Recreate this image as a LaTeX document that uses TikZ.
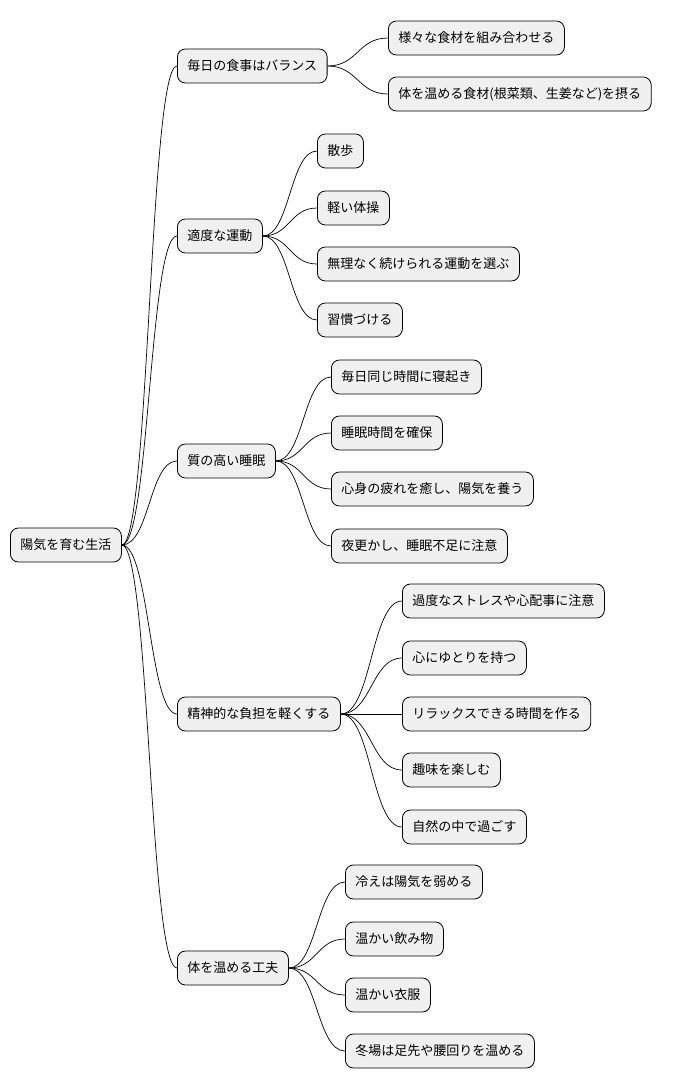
\documentclass[tikz,border=0pt]{standalone}
\usepackage{fontspec}
\setmainfont{Noto Sans CJK JP}
\usetikzlibrary{calc}
\tikzset{
 box/.style={draw=black, fill=black!6, rounded corners=8pt, minimum height=34pt, inner xsep=10pt, inner ysep=0pt, anchor=west, font=\fontsize{13pt}{15pt}\selectfont, line width=0.8pt},
 conn/.style={draw=black, line width=0.7pt}
}
\newcommand{\conn}[2]{\draw[conn] let \p1=(#1.east), \p2=(#2.west) in (\p1) .. controls ({(\x1+\x2)/2},\y1) and ({(\x1+\x2)/2},\y2) .. (\p2);}
\begin{document}
\begin{tikzpicture}[x=1pt,y=-1pt]
\useasboundingbox (0,0) rectangle (681,1090);
\node[box] (r) at (10,545) {陽気を育む生活};
\node[box] (a) at (177,66) {毎日の食事はバランス};
\node[box] (b) at (177,236) {適度な運動};
\node[box] (c) at (177,461) {質の高い睡眠};
\node[box] (d) at (177,714) {精神的な負担を軽くする};
\node[box] (e) at (177,968) {体を温める工夫};
\node[box] (a1) at (388,38) {様々な食材を組み合わせる};
\node[box] (a2) at (388,94) {体を温める食材(根菜類、生姜など)を摂る};
\node[box] (b1) at (317,151) {散歩};
\node[box] (b2) at (317,208) {軽い体操};
\node[box] (b3) at (317,264) {無理なく続けられる運動を選ぶ};
\node[box] (b4) at (317,320) {習慣づける};
\node[box] (c1) at (331,377) {毎日同じ時間に寝起き};
\node[box] (c2) at (331,433) {睡眠時間を確保};
\node[box] (c3) at (331,489) {心身の疲れを癒し、陽気を養う};
\node[box] (c4) at (331,546) {夜更かし、睡眠不足に注意};
\node[box] (d1) at (402,601) {過度なストレスや心配事に注意};
\node[box] (d2) at (402,658) {心にゆとりを持つ};
\node[box] (d3) at (402,714) {リラックスできる時間を作る};
\node[box] (d4) at (402,770) {趣味を楽しむ};
\node[box] (d5) at (402,827) {自然の中で過ごす};
\node[box] (e1) at (345,882) {冷えは陽気を弱める};
\node[box] (e2) at (345,939) {温かい飲み物};
\node[box] (e3) at (345,995) {温かい衣服};
\node[box] (e4) at (345,1051) {冬場は足先や腰回りを温める};
\foreach \c in {a,b,c,d,e} {\conn{r}{\c}}
\foreach \c in {a1,a2} {\conn{a}{\c}}
\foreach \c in {b1,b2,b3,b4} {\conn{b}{\c}}
\foreach \c in {c1,c2,c3,c4} {\conn{c}{\c}}
\foreach \c in {d1,d2,d3,d4,d5} {\conn{d}{\c}}
\foreach \c in {e1,e2,e3,e4} {\conn{e}{\c}}
\end{tikzpicture}
\end{document}
